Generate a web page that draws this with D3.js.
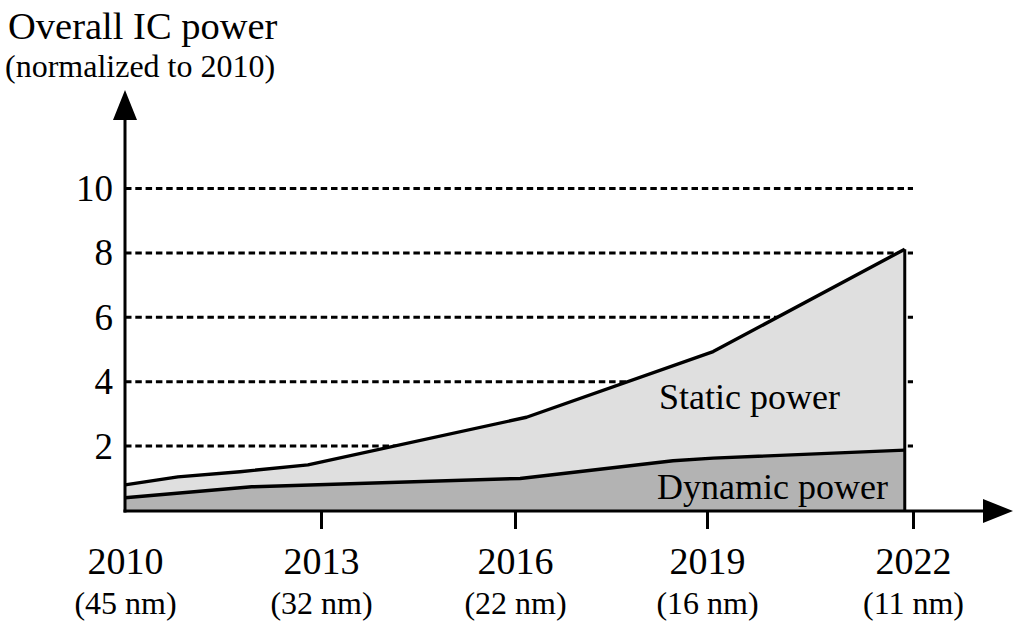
<!DOCTYPE html>
<html>
<head>
<meta charset="utf-8">
<script src="https://cdn.jsdelivr.net/npm/d3@7/dist/d3.min.js"></script>
<style>
  html, body { margin: 0; padding: 0; background: #fff; }
  svg { display: block; }
  text { font-family: "Liberation Serif", "Times New Roman", serif; fill: #000; }
</style>
</head>
<body>
<svg id="chart" width="1024" height="634"></svg>
<script>
// ---- data ----
const xTickYears = [2010, 2013, 2016, 2019, 2022];
const xTickNodes = ["(45 nm)", "(32 nm)", "(22 nm)", "(16 nm)", "(11 nm)"];
const yTickValues = [2, 4, 6, 8, 10];

const staticYears  = [2010, 2010.81, 2011.76, 2012.80, 2016.18, 2019.09, 2021.88];
const staticTotal  = [0.78, 1.03, 1.19, 1.40, 2.88, 4.92, 8.10];

const dynamicYears = [2010, 2011.94, 2016.08, 2018.47, 2019.09, 2021.88];
const dynamicPower = [0.38, 0.72, 0.98, 1.53, 1.61, 1.86];

const titleLine1 = "Overall IC power";
const titleLine2 = "(normalized to 2010)";
const staticLabel = "Static power";
const dynamicLabel = "Dynamic power";

// ---- layout ----
const svg = d3.select("#chart");
const x0 = 125, axisY = 511, gridRight = 913;

const x = d3.scaleLinear()
  .domain(xTickYears)
  .range([125, 321, 515, 707, 913]);
const y = d3.scaleLinear().domain([0, 10]).range([510, 188]);

const staticData = staticYears.map((t, i) => ({ t, v: staticTotal[i] }));
const dynamicData = dynamicYears.map((t, i) => ({ t, v: dynamicPower[i] }));

// grid lines (dashed)
const grid = svg.append("g")
  .attr("transform", `translate(${x0},0)`)
  .call(d3.axisLeft(y).tickValues(yTickValues).tickSize(-(gridRight - x0)).tickFormat(""));
grid.select(".domain").remove();
grid.selectAll(".tick line")
  .attr("stroke", "#000").attr("stroke-width", 3).attr("stroke-dasharray", "6.5,3.8");

// areas
const areaGen = d3.area().x(d => x(d.t)).y0(y(0)).y1(d => y(d.v));
const lineGen = d3.line().x(d => x(d.t)).y(d => y(d.v));

svg.append("path").datum(staticData)
  .attr("d", areaGen).attr("fill", "#dfdfdf");
svg.append("path").datum(dynamicData)
  .attr("d", areaGen).attr("fill", "#b3b3b3");

svg.append("path").datum(staticData)
  .attr("d", lineGen).attr("fill", "none").attr("stroke", "#000")
  .attr("stroke-width", 3.4).attr("stroke-linejoin", "round");
svg.append("path").datum(dynamicData)
  .attr("d", lineGen).attr("fill", "none").attr("stroke", "#000")
  .attr("stroke-width", 3.4).attr("stroke-linejoin", "round");

// right edge of areas
const last = staticData[staticData.length - 1];
svg.append("line")
  .attr("x1", x(last.t)).attr("x2", x(last.t))
  .attr("y1", y(last.v)).attr("y2", axisY)
  .attr("stroke", "#000").attr("stroke-width", 3);

// y axis labels
const yAxis = svg.append("g")
  .attr("transform", `translate(${x0},0)`)
  .call(d3.axisLeft(y).tickValues(yTickValues).tickSize(0).tickPadding(12).tickFormat(d3.format("d")));
yAxis.select(".domain").remove();
yAxis.selectAll("text")
  .style("font-family", "'Liberation Serif', serif")
  .style("font-size", "37px")
  .attr("dy", "0.34em");

// x axis ticks
const xAxis = svg.append("g")
  .attr("transform", `translate(0,${axisY})`)
  .call(d3.axisBottom(x).tickValues(xTickYears).tickSize(18).tickFormat(""));
xAxis.select(".domain").remove();
xAxis.selectAll(".tick line").attr("stroke", "#000").attr("stroke-width", 3);
xAxis.selectAll(".tick").each(function(d, i) {
  const g = d3.select(this);
  g.append("text").attr("y", 63).attr("text-anchor", "middle")
    .style("font-size", "38px").text(String(d));
  g.append("text").attr("y", 103).attr("text-anchor", "middle")
    .style("font-size", "32px").text(xTickNodes[i]);
});
// the first tick sits on the y axis; hide its tick line
xAxis.selectAll(".tick").filter(d => d === 2010).select("line").remove();

// axis lines with arrows
svg.append("line")
  .attr("x1", x0).attr("x2", x0).attr("y1", 116).attr("y2", axisY + 1.5)
  .attr("stroke", "#000").attr("stroke-width", 3);
svg.append("path")
  .attr("d", `M${x0},90 L${x0 - 12},120 L${x0 + 12},120 Z`).attr("fill", "#000");

svg.append("line")
  .attr("x1", x0 - 1.5).attr("x2", 986).attr("y1", axisY).attr("y2", axisY)
  .attr("stroke", "#000").attr("stroke-width", 3);
svg.append("path")
  .attr("d", `M1013,${axisY} L983,${axisY - 12} L983,${axisY + 12} Z`).attr("fill", "#000");

// titles and labels
svg.append("text").attr("x", 8).attr("y", 39)
  .style("font-size", "38.5px").text(titleLine1);
svg.append("text").attr("x", 5).attr("y", 77)
  .style("font-size", "32px").text(titleLine2);

svg.append("text").attr("x", 659).attr("y", 409)
  .style("font-size", "36px").text(staticLabel);
svg.append("text").attr("x", 657).attr("y", 499)
  .style("font-size", "36px").text(dynamicLabel);
</script>
</body>
</html>
